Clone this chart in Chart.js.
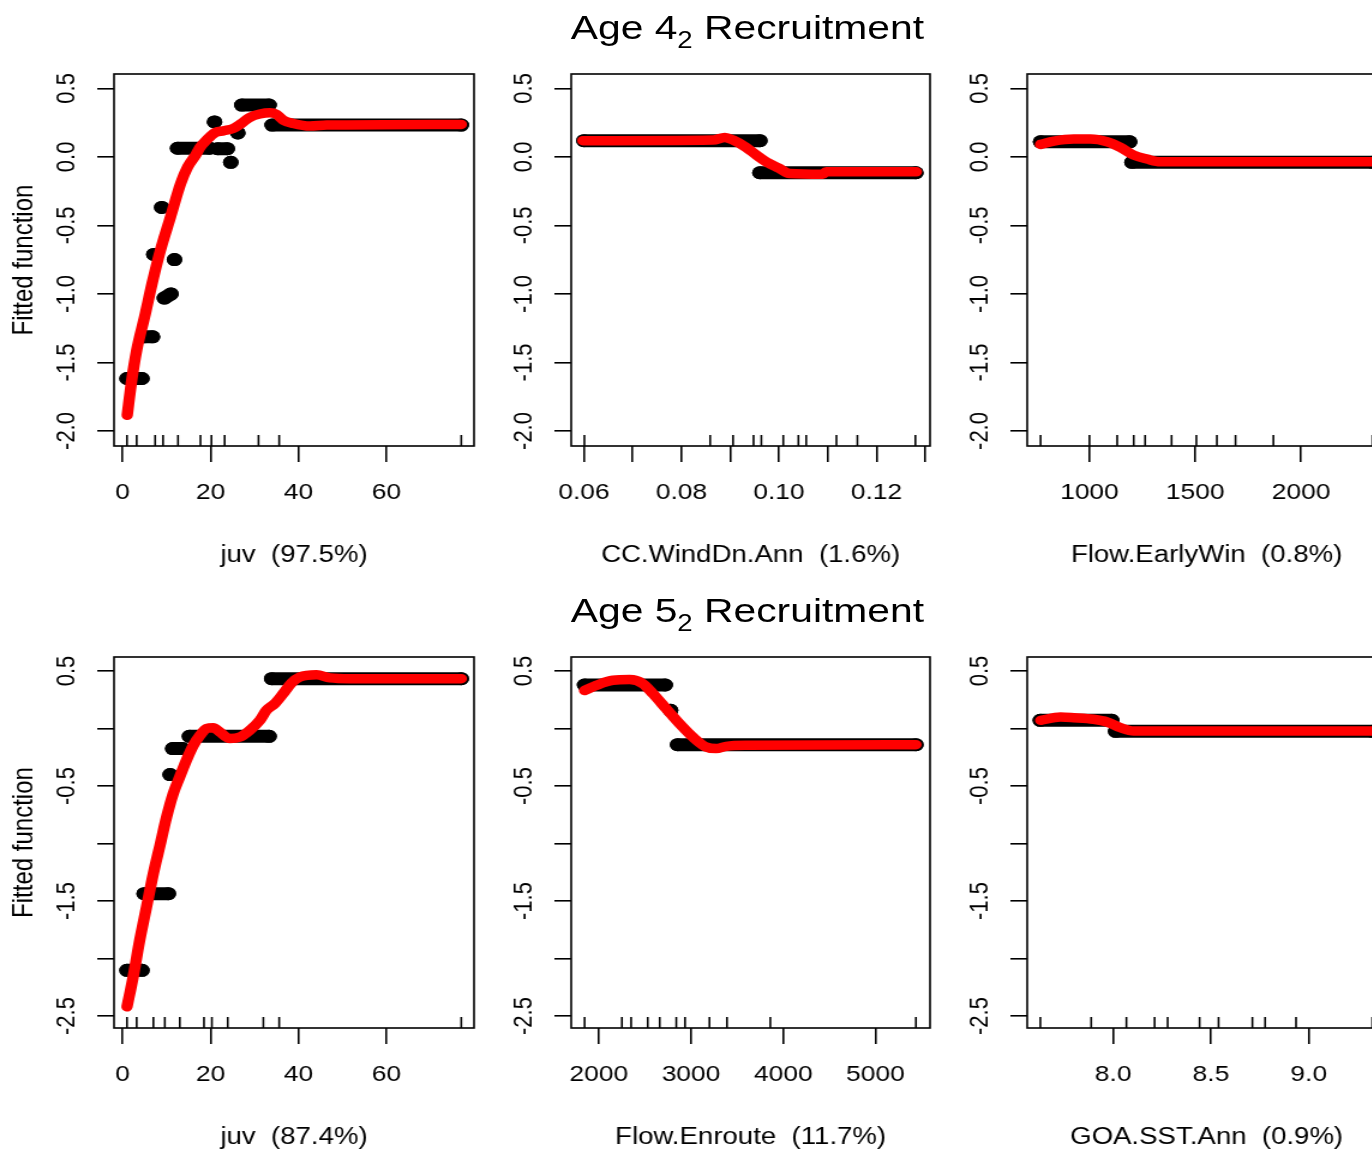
<!DOCTYPE html>
<html>
<head>
<meta charset="utf-8">
<script src="https://cdn.jsdelivr.net/npm/chart.js@4.4.1/dist/chart.umd.min.js"></script>
<style>
html, body { margin: 0; padding: 0; background: #fff; overflow: hidden; width: 1372px; height: 1151px; }
/* the original figure is stretched sideways, so the whole page is drawn narrower and scaled */
#fig { position: absolute; left: 0; top: 0; width: 1160px; height: 1151px; transform: scaleX(1.2); transform-origin: 0 0; }
#fig canvas { position: absolute; }
.title { position: absolute; font: 34px 'Liberation Sans', Arial, sans-serif; line-height: 40px; color: #000; white-space: nowrap; transform: translateX(-50%); }
.title span { font-size: 23px; position: relative; top: 9px; }
</style>
</head>
<body>
<div id="fig">
  <div class="title" style="left:622.8px; top:6.7px">Age 4<span>2</span> Recruitment</div>
  <div class="title" style="left:622.8px; top:589.7px">Age 5<span>2</span> Recruitment</div>
</div>
<script>
// ---- y axes ----
const yTicksAge4 = [0.5, 0, -0.5, -1, -1.5, -2];
const yLabelsAge4 = ['0.5', '0.0', '-0.5', '-1.0', '-1.5', '-2.0'];
const yTicksAge5 = [0.5, 0, -0.5, -1, -1.5, -2, -2.5];
const yLabelsAge5 = ['0.5', '', '-0.5', '', '-1.5', '', '-2.5'];

// ---- x axes ----
const juvTicks = [0, 20, 40, 60];
const juvLabels = ['0', '20', '40', '60'];
const windTicks = [0.06, 0.07, 0.08, 0.09, 0.10, 0.11, 0.12, 0.13];
const windLabels = ['0.06', '', '0.08', '', '0.10', '', '0.12', ''];
const earlyWinTicks = [1000, 1500, 2000];
const earlyWinLabels = ['1000', '1500', '2000'];
const enrouteTicks = [2000, 3000, 4000, 5000];
const enrouteLabels = ['2000', '3000', '4000', '5000'];
const sstTicks = [8.0, 8.5, 9.0];
const sstLabels = ['8.0', '8.5', '9.0'];

// ---- Age 4 : juv (97.5%) ----
const age4JuvLevelX = [1.0, 4.4, null, 4.9, 6.8, null, 7.1, null, 8.9, null, 9.5, 11.0, null, 11.8, null, 12.5, 19.8, null, 20.9, null, 21.6, 23.8, null, 24.6, null, 26.2, null, 27.1, 33.3, null, 34.0, 77.0];
const age4JuvLevelY = [-1.617, -1.617, null, -1.313, -1.313, null, -0.712, null, -0.369, null, -1.03, -1.0, null, -0.749, null, 0.063, 0.063, null, 0.255, null, 0.06, 0.06, null, -0.04, null, 0.175, null, 0.378, 0.378, null, 0.232, 0.232];
const age4JuvFitX = [1.05, 1.97, 3.2, 5.0, 6.7, 8.6, 10.9, 13.2, 14.8, 16.6, 17.6, 19.1, 21.0, 22.9, 25.2, 27.0, 28.9, 31.2, 33.5, 35.0, 36.5, 38.8, 42.6, 46.4, 77.0];
const age4JuvFitY = [-1.885, -1.654, -1.411, -1.168, -0.924, -0.681, -0.438, -0.194, -0.073, 0.013, 0.069, 0.123, 0.176, 0.19, 0.208, 0.244, 0.288, 0.313, 0.322, 0.31, 0.269, 0.244, 0.225, 0.232, 0.237];
const age4JuvRug = [1.0, 3.2, 7.4, 9.2, 12.6, 17.7, 20.2, 23.2, 30.9, 35.6, 77.0];

// ---- Age 4 : CC.WindDn.Ann (1.6%) ----
const windLevelX = [0.0600, 0.0961, null, 0.0961, 0.1281];
const windLevelY = [0.118, 0.118, null, -0.116, -0.116];
const windFitX = [0.0598, 0.0865, 0.0889, 0.0906, 0.0933, 0.0954, 0.0974, 0.1001, 0.1022, 0.1090, 0.1097, 0.1282];
const windFitY = [0.118, 0.123, 0.142, 0.123, 0.069, 0.013, -0.036, -0.084, -0.121, -0.126, -0.109, -0.109];
const windRug = [0.0601, 0.0859, 0.0906, 0.0948, 0.0964, 0.1009, 0.1040, 0.1056, 0.1118, 0.1161, 0.1280];

// ---- Age 4 : Flow.EarlyWin (0.8%) ----
const earlyWinLevelX = [769, 1190, null, 1201, 2337];
const earlyWinLevelY = [0.11, 0.11, null, -0.04, -0.04];
const earlyWinFitX = [769, 832, 926, 1005, 1083, 1146, 1209, 1272, 1335, 2337];
const earlyWinFitY = [0.091, 0.115, 0.13, 0.13, 0.11, 0.069, 0.013, -0.016, -0.036, -0.036];
const earlyWinRug = [769, 1000, 1131, 1209, 1263, 1388, 1505, 1602, 1690, 1869, 2337];

// ---- Age 5 : juv (87.4%) ----
const age5JuvLevelX = [1.0, 4.4, null, 4.9, 10.4, null, 10.8, null, 11.4, 13.6, null, 15.2, 33.3, null, 33.9, 77.0];
const age5JuvLevelY = [-2.103, -2.103, null, -1.436, -1.436, null, -0.401, null, -0.175, -0.175, null, -0.068, -0.068, null, 0.433, 0.433];
const age5JuvFitX = [1.0, 2.4, 3.9, 5.45, 7.0, 8.5, 10.0, 11.5, 13.0, 14.5, 16.1, 17.6, 19.1, 20.6, 22.1, 24.4, 26.7, 28.9, 31.2, 32.7, 34.6, 36.5, 38.4, 40.3, 44.1, 47.1, 51.7, 77.0];
const age5JuvFitY = [-2.42, -2.16, -1.84, -1.55, -1.26, -1.016, -0.77, -0.567, -0.42, -0.277, -0.146, -0.06, -0.001, 0.007, -0.03, -0.088, -0.074, -0.016, 0.071, 0.158, 0.216, 0.303, 0.396, 0.448, 0.468, 0.44, 0.433, 0.433];
const age5JuvRug = [1.0, 3.2, 7.0, 9.6, 13.0, 18.5, 20.3, 23.9, 32.0, 35.6, 77.0];

// ---- Age 5 : Flow.Enroute (11.7%) ----
const enrouteLevelX = [1845, 2720, null, 2778, null, 2854, 5440];
const enrouteLevelY = [0.378, 0.378, null, 0.158, null, -0.141, -0.141];
const enrouteFitX = [1845, 1972, 2152, 2333, 2477, 2586, 2731, 2875, 3019, 3164, 3273, 3382, 3599, 5440];
const enrouteFitY = [0.33, 0.375, 0.419, 0.425, 0.39, 0.303, 0.172, 0.042, -0.074, -0.161, -0.175, -0.155, -0.146, -0.141];
const enrouteRug = [1845, 2250, 2350, 2530, 2660, 2840, 2935, 3200, 3390, 3860, 5440];

// ---- Age 5 : GOA.SST.Ann (0.9%) ----
const sstLevelX = [7.628, 7.993, null, 8.013, 9.325];
const sstLevelY = [0.071, 0.071, null, -0.025, -0.025];
const sstFitX = [7.63, 7.731, 7.799, 7.901, 7.969, 8.037, 8.105, 9.325];
const sstFitY = [0.071, 0.1, 0.094, 0.08, 0.057, 0.007, -0.022, -0.022];
const sstRug = [7.628, 7.888, 8.068, 8.212, 8.279, 8.442, 8.539, 8.712, 8.777, 8.935, 9.325];

Chart.defaults.font.family = "'Liberation Sans', Arial, sans-serif";
Chart.defaults.color = '#000';

const fig = document.getElementById('fig');
const colLeft = [0, 381.4, 760.6];
const colWidth = [410, 409, 409];
const rowTop = [54, 637];
const rowHeight = [522, 521];
const xAxisHeight = 130;

const panels = [
  { row: 0, col: 0, title: 'juv  (97.5%)', xMin: -1.95, xMax: 79.9, xTicks: juvTicks, xLabels: juvLabels,
    yMin: -2.1095, yMax: 0.6047, yTicks: yTicksAge4, yLabels: yLabelsAge4,
    levelX: age4JuvLevelX, levelY: age4JuvLevelY, fitX: age4JuvFitX, fitY: age4JuvFitY, rug: age4JuvRug },
  { row: 0, col: 1, title: 'CC.WindDn.Ann  (1.6%)', xMin: 0.0574, xMax: 0.131, xTicks: windTicks, xLabels: windLabels,
    yMin: -2.1095, yMax: 0.6047, yTicks: yTicksAge4, yLabels: yLabelsAge4,
    levelX: windLevelX, levelY: windLevelY, fitX: windFitX, fitY: windFitY, rug: windRug },
  { row: 0, col: 2, title: 'Flow.EarlyWin  (0.8%)', xMin: 706, xMax: 2401, xTicks: earlyWinTicks, xLabels: earlyWinLabels,
    yMin: -2.1095, yMax: 0.6047, yTicks: yTicksAge4, yLabels: yLabelsAge4,
    levelX: earlyWinLevelX, levelY: earlyWinLevelY, fitX: earlyWinFitX, fitY: earlyWinFitY, rug: earlyWinRug },
  { row: 1, col: 0, title: 'juv  (87.4%)', xMin: -1.95, xMax: 79.9, xTicks: juvTicks, xLabels: juvLabels,
    yMin: -2.6043, yMax: 0.6217, yTicks: yTicksAge5, yLabels: yLabelsAge5,
    levelX: age5JuvLevelX, levelY: age5JuvLevelY, fitX: age5JuvFitX, fitY: age5JuvFitY, rug: age5JuvRug },
  { row: 1, col: 1, title: 'Flow.Enroute  (11.7%)', xMin: 1700, xMax: 5593, xTicks: enrouteTicks, xLabels: enrouteLabels,
    yMin: -2.6043, yMax: 0.6217, yTicks: yTicksAge5, yLabels: yLabelsAge5,
    levelX: enrouteLevelX, levelY: enrouteLevelY, fitX: enrouteFitX, fitY: enrouteFitY, rug: enrouteRug },
  { row: 1, col: 2, title: 'GOA.SST.Ann  (0.9%)', xMin: 7.561, xMax: 9.395, xTicks: sstTicks, xLabels: sstLabels,
    yMin: -2.6043, yMax: 0.6217, yTicks: yTicksAge5, yLabels: yLabelsAge5,
    levelX: sstLevelX, levelY: sstLevelY, fitX: sstFitX, fitY: sstFitY, rug: sstRug }
];

// box round the plot region plus the rug of deciles along the bottom
function frameAndRug(rug) {
  return {
    id: 'frameAndRug',
    afterDatasetsDraw(chart) {
      const ctx = chart.ctx;
      const a = chart.chartArea;
      const xs = chart.scales.x;
      ctx.save();
      ctx.strokeStyle = '#000';
      ctx.lineWidth = 1.6;
      ctx.beginPath();
      rug.forEach(v => {
        const px = xs.getPixelForValue(v);
        ctx.moveTo(px, a.bottom);
        ctx.lineTo(px, a.bottom - 11);
      });
      ctx.stroke();
      ctx.strokeRect(a.left, a.top, a.right - a.left, a.bottom - a.top);
      ctx.restore();
    }
  };
}

function toPoints(xs, ys) {
  return xs.map((x, i) => ({ x: x === null ? xs[i - 1] : x, y: ys[i] }));
}

panels.forEach(p => {
  const el = document.createElement('canvas');
  el.width = colWidth[p.col];
  el.height = rowHeight[p.row];
  el.style.left = colLeft[p.col] + 'px';
  el.style.top = rowTop[p.row] + 'px';
  fig.appendChild(el);

  new Chart(el, {
    type: 'line',
    data: {
      datasets: [
        {
          data: toPoints(p.fitX, p.fitY),
          borderColor: '#ff0000',
          borderWidth: 9.5,
          pointRadius: 0,
          cubicInterpolationMode: 'monotone',
          borderCapStyle: 'round',
          borderJoinStyle: 'round',
          order: 0
        },
        {
          data: toPoints(p.levelX, p.levelY),
          borderColor: '#000',
          backgroundColor: '#000',
          borderWidth: 13,
          pointRadius: 6.5,
          pointBorderWidth: 0,
          pointBackgroundColor: '#000',
          borderCapStyle: 'round',
          borderJoinStyle: 'round',
          spanGaps: false,
          order: 1
        }
      ]
    },
    options: {
      responsive: false,
      animation: false,
      events: [],
      layout: { padding: { top: 20, right: 15, bottom: 0, left: 0 } },
      plugins: { legend: { display: false }, tooltip: { enabled: false } },
      scales: {
        x: {
          type: 'linear',
          position: 'bottom',
          bounds: 'data',
          min: p.xMin,
          max: p.xMax,
          afterBuildTicks: s => { s.ticks = p.xTicks.map(v => ({ value: v })); },
          afterFit: s => { s.height = xAxisHeight; },
          ticks: {
            autoSkip: false,
            maxRotation: 0,
            padding: 18,
            font: { size: 22 },
            color: '#000',
            callback: (v, i) => p.xLabels[i]
          },
          grid: { drawOnChartArea: false, drawTicks: true, tickLength: 16, color: '#000', lineWidth: 1.6 },
          border: { display: false },
          title: { display: true, text: p.title, font: { size: 23 }, color: '#000', padding: { top: 0, bottom: 7 } }
        },
        y: {
          type: 'linear',
          bounds: 'data',
          min: p.yMin,
          max: p.yMax,
          afterBuildTicks: s => { s.ticks = p.yTicks.map(v => ({ value: v })); },
          afterFit: s => { s.width = 95; },
          ticks: {
            autoSkip: false,
            minRotation: 90,
            maxRotation: 90,
            crossAlign: 'center',
            padding: 6,
            font: { size: 22 },
            color: '#000',
            callback: (v, i) => p.yLabels[i]
          },
          grid: { drawOnChartArea: false, drawTicks: true, tickLength: 14, color: '#000', lineWidth: 1.6 },
          border: { display: false },
          title: { display: p.col === 0, text: 'Fitted function', font: { size: 24 }, color: '#000', padding: { top: 6, bottom: 0 } }
        }
      }
    },
    plugins: [frameAndRug(p.rug)]
  });
});
</script>
</body>
</html>
